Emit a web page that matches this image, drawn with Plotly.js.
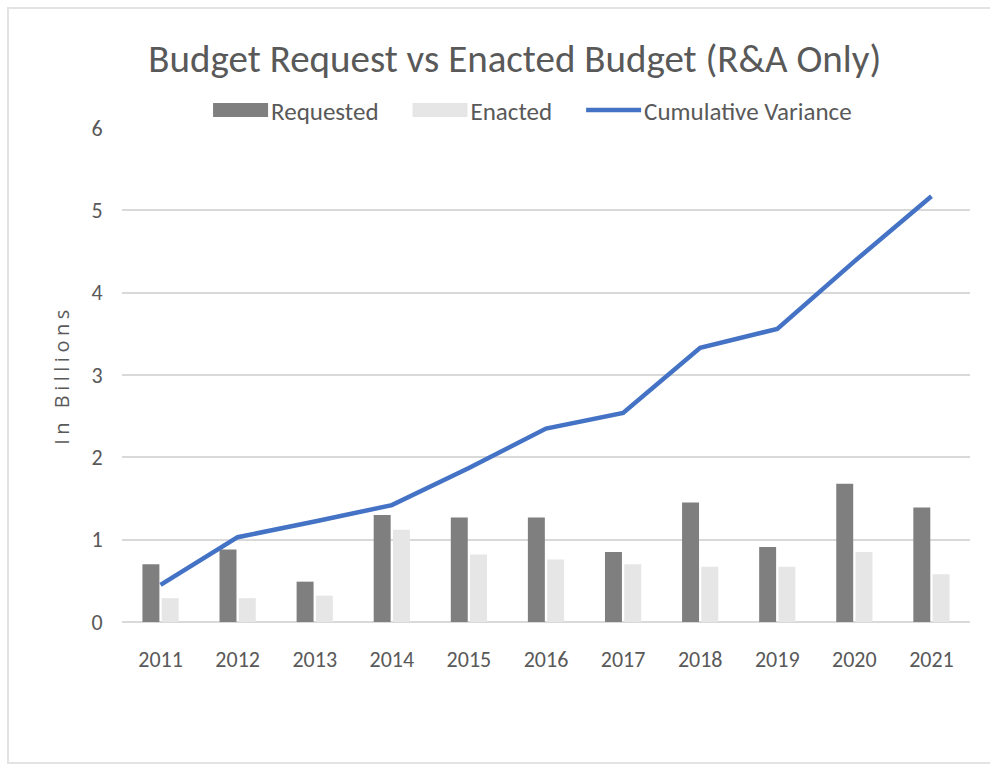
<!DOCTYPE html>
<html>
<head>
<meta charset="utf-8">
<script src="https://cdn.plot.ly/plotly-3.0.1.min.js"></script>
<style>
  html, body { margin: 0; padding: 0; background: #ffffff; }
  #frame { position: absolute; left: 7px; top: 7px; width: 990px; height: 757px; border: 2px solid #e3e3e3; box-sizing: border-box; }
  #chart { position: absolute; left: 0; top: 0; width: 990px; height: 770px; }
  #chart .ytitle { letter-spacing: 4.5px; }
</style>
</head>
<body>
<div id="frame"></div>
<div id="chart"></div>
<script>
const years = ['2011','2012','2013','2014','2015','2016','2017','2018','2019','2020','2021'];
const requested = [0.70, 0.88, 0.49, 1.30, 1.27, 1.27, 0.85, 1.45, 0.91, 1.68, 1.39];
const enacted   = [0.29, 0.29, 0.32, 1.12, 0.82, 0.76, 0.70, 0.67, 0.67, 0.85, 0.58];
const cumulativeVariance = [0.45, 1.03, 1.22, 1.42, 1.87, 2.35, 2.54, 3.33, 3.56, 4.38, 5.17];
const yTicks = [0, 1, 2, 3, 4, 5, 6];

const FONT = 'Carlito, "Liberation Sans Narrow", "Open Sans", sans-serif';
const GREY = '#595959';

const traces = [
  { type: 'bar', name: 'Requested', x: years, y: requested, marker: { color: '#7f7f7f' } },
  { type: 'bar', name: 'Enacted', x: years, y: enacted, marker: { color: '#e6e6e6' } },
  { type: 'scatter', mode: 'lines', name: 'Cumulative Variance', x: years, y: cumulativeVariance,
    line: { color: '#4472c4', width: 4.5 } }
];

const layout = {
  width: 990, height: 770,
  paper_bgcolor: 'rgba(0,0,0,0)', plot_bgcolor: 'rgba(0,0,0,0)',
  margin: { l: 122, r: 20, t: 128, b: 148 },
  font: { family: FONT, color: GREY, size: 21 },
  title: { text: 'Budget Request vs Enacted Budget (R&A Only)', xref: 'container', x: 0.52, xanchor: 'center',
           yref: 'container', y: 1 - 58/770, yanchor: 'middle', font: { family: FONT, size: 39, color: GREY } },
  barmode: 'group', bargap: 0.5, bargroupgap: 0.12,
  showlegend: true,
  legend: { orientation: 'h', x: 0.470, xanchor: 'center', y: 1.036, yanchor: 'middle',
            font: { family: FONT, size: 25, color: GREY }, traceorder: 'normal', itemwidth: 77 },
  xaxis: { type: 'category', showgrid: false, showline: false, zeroline: false,
           ticks: 'outside', ticklen: 18, tickcolor: 'rgba(0,0,0,0)',
           tickfont: { family: FONT, size: 22, color: GREY } },
  yaxis: { range: [0, 6], tickvals: yTicks, showgrid: true, gridcolor: '#d9d9d9', gridwidth: 2,
           zeroline: true, zerolinecolor: '#d9d9d9', zerolinewidth: 2, showline: false,
           ticks: 'outside', ticklen: 14, tickcolor: 'rgba(0,0,0,0)',
           tickfont: { family: FONT, size: 22, color: GREY },
           title: { text: 'In Billions', standoff: 16, font: { family: '"Open Sans", sans-serif', size: 20, color: GREY } } }
};

Plotly.newPlot('chart', traces, layout, { displayModeBar: false, staticPlot: true }).then(function (gd) {
  // Restyle legend keys into long rectangles/lines that end just before their label, as in the reference
  gd.querySelectorAll('.legend [clip-path]').forEach(function (el) { el.removeAttribute('clip-path'); });
  gd.querySelectorAll('.legend .traces').forEach(function (tr) {
    const txt = tr.querySelector('text.legendtext');
    if (!txt) return;
    const tb = txt.getBoundingClientRect();
    const place = function (p, isLine) {
      const m = p.getScreenCTM();
      if (!m) return;
      const right = (tb.left - 3 - m.e) / m.a;
      const left = right - 55;
      if (isLine) {
        p.setAttribute('d', 'M' + left + ',0H' + right);
      } else {
        p.setAttribute('d', 'M' + right + ',7H' + left + 'V-7H' + right + 'Z');
      }
    };
    tr.querySelectorAll('.legendlines path').forEach(function (p) { place(p, true); });
    tr.querySelectorAll('.legendpoints path').forEach(function (p) {
      if (/V/.test(p.getAttribute('d') || '')) place(p, false);
    });
  });
});
</script>
</body>
</html>
